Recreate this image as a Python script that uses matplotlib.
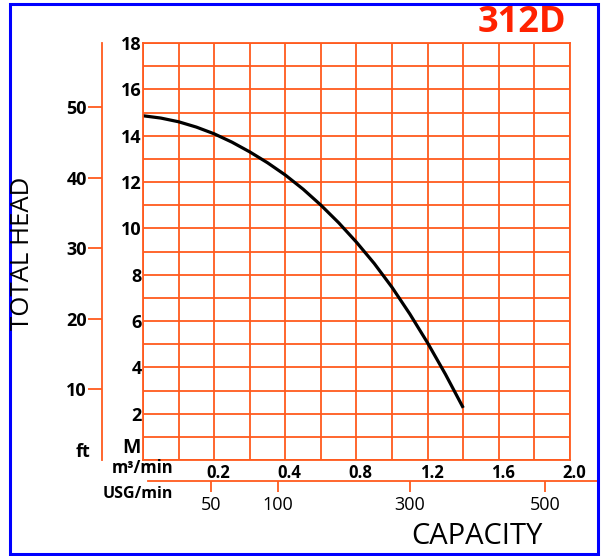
import numpy as np
import matplotlib.pyplot as plt
from matplotlib.patches import Rectangle
from matplotlib.transforms import ScaledTranslation

# pump curve 312D (x in grid columns, head in metres)
flow_col = [0, 0.5, 1, 1.5, 2, 2.5, 3, 3.5, 4, 4.5, 5, 5.5, 6, 6.5, 7, 7.5, 8, 8.5, 9]
head_m = [14.86, 14.76, 14.6, 14.37, 14.08, 13.72, 13.3, 12.83, 12.3, 11.69,
          11.0, 10.24, 9.4, 8.48, 7.45, 6.3, 5.05, 3.7, 2.25]

m3_labels = ['0.2', '0.4', '0.8', '1.2', '1.6', '2.0']
m3_cols = [2, 4, 6, 8, 10, 12]
usg_labels = ['50', '100', '300', '500']
usg_cols = [1.9, 3.8, 7.5, 11.3]
ft_ticks = [10, 20, 30, 40, 50]

orange = '#ff5a1e'
plt.rcParams['font.family'] = ['Open Sans', 'DejaVu Sans']

W, H = 602, 556
fig = plt.figure(figsize=(W / 100, H / 100), dpi=100)

def fx(px):
    return px / W

def fy(py):
    return 1 - py / H

ax = fig.add_axes([fx(143), fy(460), fx(570) - fx(143), fy(43) - fy(460)])
ax.set_xlim(0, 12)
ax.set_ylim(0, 18)
ax.set_xticks(range(13))
ax.set_yticks(range(19))
ax.grid(True, color=orange, linewidth=1.3)
ax.set_axisbelow(True)
for s in ax.spines.values():
    s.set_color(orange)
    s.set_linewidth(1.3)
ax.tick_params(length=0)
ax.set_yticklabels([str(v) if v % 2 == 0 and v > 0 else '' for v in range(19)],
                   fontsize=13, fontweight='bold')
xl = [''] * 13
for c, l in zip(m3_cols, m3_labels):
    xl[c] = l
ax.set_xticklabels(xl, fontsize=12, fontweight='bold')
ax.tick_params(axis='y', pad=1)
ax.tick_params(axis='x', pad=3)
shift = ScaledTranslation(4 / 100, 0, fig.dpi_scale_trans)
for t in ax.get_xticklabels():
    t.set_transform(t.get_transform() + shift)

ax.plot(flow_col, head_m, color='black', linewidth=2.3, solid_capstyle='butt')

# feet scale
ft = ax.secondary_yaxis(-(143 - 102) / 427, functions=(lambda m: m / 0.3048, lambda f: f * 0.3048))
ft.set_yticks(ft_ticks)
ft.spines['left'].set_color(orange)
ft.spines['left'].set_linewidth(1.3)
ft.tick_params(axis='y', color=orange, length=10, width=1.3, pad=1, labelsize=13)
for t in ft.get_yticklabels():
    t.set_fontweight('bold')

# USG/min scale
x0, x1 = 148, 598
au = fig.add_axes([fx(x0), fy(481), fx(x1) - fx(x0), 0.0001])
au.set_xlim((x0 - 143) / 35.58, (x1 - 143) / 35.58)
au.set_yticks([])
for k in ['top', 'left', 'right']:
    au.spines[k].set_visible(False)
au.spines['bottom'].set_color(orange)
au.spines['bottom'].set_linewidth(1.3)
au.set_xticks(usg_cols)
au.set_xticklabels(usg_labels, fontsize=13)
au.tick_params(axis='x', color=orange, length=8, width=1.3, pad=3)
au.patch.set_visible(False)

fig.text(fx(522), fy(23), '312D', color='#ff2200', fontsize=26, fontweight='bold',
         ha='center', va='center')
fig.text(fx(23), fy(253), 'TOTAL HEAD', rotation=90, fontsize=18.5, ha='center', va='center')
fig.text(fx(477), fy(537), 'CAPACITY', fontsize=21, ha='center', va='center')
fig.text(fx(83), fy(452), 'ft', fontsize=13, fontweight='bold', ha='center', va='center')
fig.text(fx(131), fy(448), 'M', fontsize=14, fontweight='bold', ha='center', va='center')
fig.text(fx(143), fy(468), 'm³/min', fontsize=12, fontweight='bold', ha='center', va='center')
fig.text(fx(138), fy(494), 'USG/min', fontsize=11.5, fontweight='bold', ha='center', va='center')

fig.patches.append(Rectangle((fx(10), fy(554)), fx(598) - fx(10), fy(4) - fy(554),
                             transform=fig.transFigure, fill=False, edgecolor='#0000ff',
                             linewidth=2.2))

fig.savefig('out.png', dpi=100)
